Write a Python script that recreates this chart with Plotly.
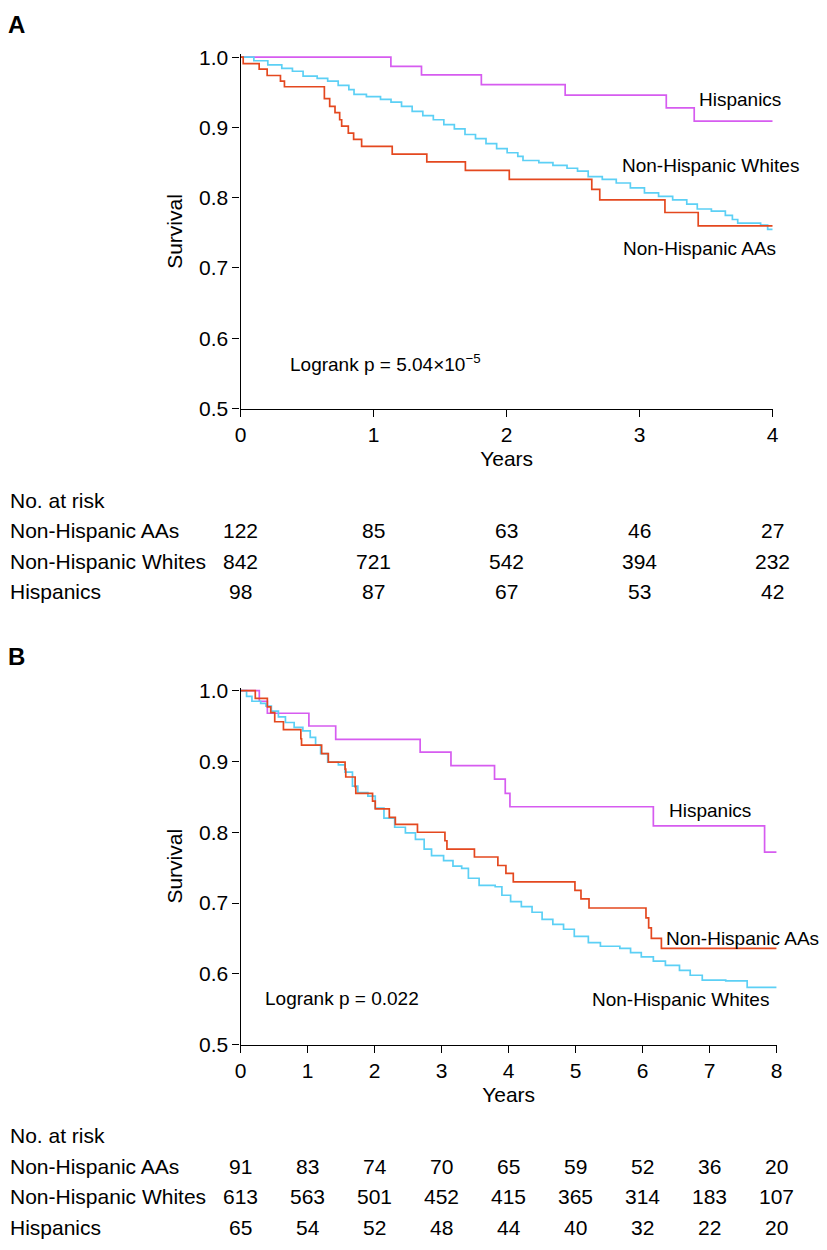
import plotly.graph_objects as go

W, H = 827, 1250

# ---------------- Panel A data ----------------
a_his_t = [0, 1.13, 1.36, 1.81, 2.44, 3.20, 3.41, 4.0]
a_his_s = [1.0, 0.987, 0.975, 0.961, 0.946, 0.928, 0.909, 0.909]

a_wht_t = [0, 0.10, 0.205, 0.31, 0.39, 0.47, 0.576, 0.655, 0.734, 0.814, 0.853, 0.946, 1.052,
           1.131, 1.21, 1.29, 1.37, 1.449, 1.528, 1.607, 1.687, 1.766, 1.845, 1.925, 2.004,
           2.084, 2.123, 2.242, 2.348, 2.454, 2.533, 2.613, 2.719, 2.824, 2.930, 3.036, 3.142,
           3.248, 3.354, 3.433, 3.539, 3.644, 3.697, 3.737, 3.909, 3.962, 4.0]
a_wht_s = [1.0, 0.995, 0.989, 0.984, 0.980, 0.973, 0.970, 0.966, 0.960, 0.954, 0.947, 0.944,
           0.940, 0.936, 0.930, 0.923, 0.917, 0.911, 0.904, 0.898, 0.890, 0.884, 0.877, 0.870,
           0.864, 0.859, 0.853, 0.850, 0.846, 0.842, 0.838, 0.830, 0.826, 0.821, 0.814, 0.807,
           0.802, 0.797, 0.791, 0.784, 0.781, 0.775, 0.769, 0.764, 0.761, 0.755, 0.755]

a_aa_t = [0, 0.02, 0.14, 0.20, 0.30, 0.33, 0.63, 0.67, 0.71, 0.745, 0.76, 0.81, 0.85, 0.91,
          1.14, 1.40, 1.69, 2.02, 2.64, 2.70, 3.19, 3.44, 4.0]
a_aa_s = [1.0, 0.991, 0.983, 0.974, 0.966, 0.958, 0.941, 0.930, 0.921, 0.911, 0.902, 0.892,
          0.883, 0.873, 0.862, 0.851, 0.839, 0.826, 0.812, 0.797, 0.779, 0.760, 0.760]

a_risk_times = [0, 1, 2, 3, 4]
a_risk_aa = [122, 85, 63, 46, 27]
a_risk_wht = [842, 721, 542, 394, 232]
a_risk_his = [98, 87, 67, 53, 42]

# ---------------- Panel B data ----------------
b_his_t = [0, 0.28, 0.40, 1.02, 1.42, 2.68, 3.14, 3.79, 3.95, 4.02, 6.16, 7.82, 8.0]
b_his_s = [1.0, 0.985, 0.968, 0.950, 0.931, 0.913, 0.894, 0.875, 0.855, 0.836, 0.809, 0.772, 0.772]

b_aa_t = [0, 0.22, 0.40, 0.45, 0.51, 0.64, 0.90, 0.91, 1.21, 1.31, 1.56, 1.57, 1.71, 1.72,
          1.97, 2.01, 2.22, 2.31, 2.64, 3.05, 3.08, 3.49, 3.84, 3.96, 4.07, 4.99, 5.08, 5.20,
          6.05, 6.09, 6.13, 6.28, 8.0]
b_aa_s = [1.0, 0.989, 0.977, 0.969, 0.956, 0.945, 0.932, 0.923, 0.911, 0.899, 0.889, 0.878,
          0.8645, 0.855, 0.844, 0.833, 0.821, 0.811, 0.800, 0.788, 0.776, 0.765, 0.753, 0.742,
          0.730, 0.718, 0.706, 0.693, 0.679, 0.665, 0.650, 0.636, 0.636]

b_wht_t = [0, 0.09, 0.17, 0.30, 0.38, 0.46, 0.565, 0.67, 0.80, 0.93, 1.04, 1.12, 1.195, 1.30,
           1.46, 1.56, 1.67, 1.75, 1.90, 2.01, 2.14, 2.30, 2.46, 2.61, 2.74, 2.85, 3.03, 3.17,
           3.30, 3.40, 3.56, 3.80, 3.90, 4.03, 4.19, 4.35, 4.50, 4.66, 4.82, 4.98, 5.19, 5.37,
           5.66, 5.82, 5.98, 6.16, 6.34, 6.55, 6.71, 6.89, 7.24, 7.56, 8.0]
b_wht_s = [1.0, 0.992, 0.985, 0.982, 0.978, 0.971, 0.963, 0.955, 0.948, 0.943, 0.934, 0.923,
           0.911, 0.899, 0.895, 0.885, 0.865, 0.856, 0.851, 0.834, 0.820, 0.807, 0.799, 0.790,
           0.776, 0.767, 0.760, 0.752, 0.749, 0.735, 0.725, 0.723, 0.711, 0.702, 0.695, 0.687,
           0.677, 0.670, 0.663, 0.653, 0.644, 0.639, 0.636, 0.630, 0.624, 0.618, 0.612, 0.605,
           0.598, 0.591, 0.590, 0.581, 0.581]

b_risk_times = [0, 1, 2, 3, 4, 5, 6, 7, 8]
b_risk_aa = [91, 83, 74, 70, 65, 59, 52, 36, 20]
b_risk_wht = [613, 563, 501, 452, 415, 365, 314, 183, 107]
b_risk_his = [65, 54, 52, 48, 44, 40, 32, 22, 20]

group_names = ["Non-Hispanic AAs", "Non-Hispanic Whites", "Hispanics"]

C_HIS = "#D65CF0"
C_AA = "#E4481F"
C_WHT = "#5CD0F5"
FONT = "Liberation Sans, Arial, Helvetica, sans-serif"
LW = 1.7


def py(p):
    return 1 - p / H


fig = go.Figure()
for t, s, c in [(a_his_t, a_his_s, C_HIS), (a_wht_t, a_wht_s, C_WHT), (a_aa_t, a_aa_s, C_AA)]:
    fig.add_trace(go.Scatter(x=t, y=s, mode="lines", line=dict(color=c, width=LW, shape="hv"),
                             xaxis="x", yaxis="y", showlegend=False, hoverinfo="skip"))
for t, s, c in [(b_his_t, b_his_s, C_HIS), (b_wht_t, b_wht_s, C_WHT), (b_aa_t, b_aa_s, C_AA)]:
    fig.add_trace(go.Scatter(x=t, y=s, mode="lines", line=dict(color=c, width=LW, shape="hv"),
                             xaxis="x2", yaxis="y2", showlegend=False, hoverinfo="skip"))

axis_common = dict(showline=True, linecolor="black", linewidth=1.3, ticks="outside",
                   ticklen=7, tickwidth=1.3, tickcolor="black", showgrid=False, zeroline=False,
                   tickfont=dict(size=21, color="black", family=FONT))

fig.update_layout(
    width=W, height=H, margin=dict(l=0, r=0, t=0, b=0),
    paper_bgcolor="white", plot_bgcolor="white",
    font=dict(family=FONT, color="black"),
    xaxis=dict(domain=[238 / W, 778 / W], range=[0, 4], dtick=1, anchor="y",
               title=dict(text="Years", font=dict(size=21), standoff=6), **axis_common),
    yaxis=dict(domain=[py(406), py(406 - 714 * 0.504)], range=[0.5, 1.004], tick0=0.5, dtick=0.1,
               tickformat=".1f", anchor="x",
               title=dict(text="Survival", font=dict(size=21), standoff=10), **axis_common),
    xaxis2=dict(domain=[238 / W, 782 / W], range=[0, 8], dtick=1, anchor="y2",
                title=dict(text="Years", font=dict(size=21), standoff=6), **axis_common),
    yaxis2=dict(domain=[py(1052.5), py(1052.5 - 719.6 * 0.504)], range=[0.5, 1.004], tick0=0.5,
                dtick=0.1, tickformat=".1f", anchor="x2",
                title=dict(text="Survival", font=dict(size=21), standoff=10), **axis_common),
)

ann = []
# Panel letters
ann.append(dict(text="<b>A</b>", x=0, y=py(15.5), xref="paper", yref="paper",
                xanchor="left", yanchor="middle", showarrow=False, font=dict(size=24)))
ann.append(dict(text="<b>B</b>", x=0, y=py(658), xref="paper", yref="paper",
                xanchor="left", yanchor="middle", showarrow=False, font=dict(size=24)))

# Curve labels
lab = dict(showarrow=False, xanchor="left", yanchor="middle", font=dict(size=19))
ann += [
    dict(text="Hispanics", x=3.43, y=0.940, xref="x", yref="y", **lab),
    dict(text="Non-Hispanic Whites", x=2.85, y=0.846, xref="x", yref="y", **lab),
    dict(text="Non-Hispanic AAs", x=2.86, y=0.728, xref="x", yref="y", **lab),
    dict(text="Logrank p = 5.04×10<sup>−5</sup>", x=0.355, y=0.5644, xref="x", yref="y", **lab),
    dict(text="Hispanics", x=6.37, y=0.831, xref="x2", yref="y2", **lab),
    dict(text="Non-Hispanic AAs", x=6.32, y=0.650, xref="x2", yref="y2", **lab),
    dict(text="Non-Hispanic Whites", x=5.22, y=0.5636, xref="x2", yref="y2", **lab),
    dict(text="Logrank p = 0.022", x=0.33, y=0.565, xref="x2", yref="y2", **lab),
]

# Risk tables
tab = dict(showarrow=False, yanchor="middle", font=dict(size=21))


def risk_table(y_head, rows_y, xref, times, series):
    out = [dict(text="No. at risk", x=2 / W, y=py(y_head), xref="paper", yref="paper",
                xanchor="left", **tab)]
    for name, yy, vals in zip(group_names, rows_y, series):
        out.append(dict(text=name, x=2 / W, y=py(yy), xref="paper", yref="paper",
                        xanchor="left", **tab))
        for t, v in zip(times, vals):
            out.append(dict(text=str(v), x=t, y=py(yy), xref=xref, yref="paper",
                            xanchor="center", **tab))
    return out


ann += risk_table(499, [530, 561, 592], "x", a_risk_times, [a_risk_aa, a_risk_wht, a_risk_his])
ann += risk_table(1145, [1176, 1207, 1238], "x2", b_risk_times, [b_risk_aa, b_risk_wht, b_risk_his])

fig.update_layout(annotations=ann)
fig.write_html("out.html", config={"displayModeBar": False},
               post_script="document.body.style.margin='0px';")
